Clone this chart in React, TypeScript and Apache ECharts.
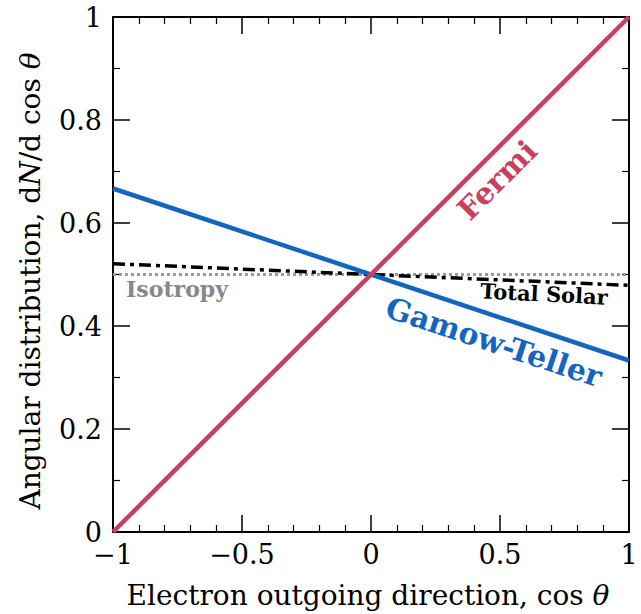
import React, { useEffect, useRef } from "react";
import * as echarts from "echarts";

const xRange = [-1, 1];
const fermi = [[-1, 0], [1, 1]];
const gamowTeller = [[-1, 0.667], [1, 0.333]];
const isotropy = [[-1, 0.5], [1, 0.5]];
const totalSolar = [[-1, 0.521], [1, 0.479]];

const SERIF = "'DejaVu Serif', 'Liberation Serif', serif";
const BOLD = "'DejaVu Serif', serif";
const fmt = (v: number) => (v < 0 ? "\u2212" + Math.abs(v) : String(v));

export default function App() {
  const ref = useRef<HTMLDivElement>(null);
  useEffect(() => {
    if (!ref.current) return;
    document.body.style.margin = "0";
    const chart = echarts.init(ref.current, null, { renderer: "svg" });
    const axisCommon = {
      axisLine: { show: true, onZero: false, lineStyle: { color: "#000", width: 2 } },
      axisTick: { show: true, inside: true, length: 17, lineStyle: { color: "#000", width: 1.5 } },
      minorTick: { show: true, length: 7, lineStyle: { color: "#000", width: 1.2 } },
      splitLine: { show: false },
    };
    chart.setOption({
      animation: false,
      backgroundColor: "#fff",
      grid: { left: 113, right: 12, top: 17, bottom: 82 },
      xAxis: [
        {
          type: "value", min: xRange[0], max: xRange[1], interval: 0.5, position: "bottom",
          ...axisCommon,
          minorTick: { ...axisCommon.minorTick, splitNumber: 5 },
          axisLabel: { fontFamily: SERIF, fontSize: 27, lineHeight: 22, color: "#000", margin: 11, formatter: fmt },
        },
        {
          type: "value", min: xRange[0], max: xRange[1], interval: 0.5, position: "top",
          ...axisCommon,
          minorTick: { ...axisCommon.minorTick, splitNumber: 5 },
          axisLabel: { show: false },
        },
      ],
      yAxis: [
        {
          type: "value", min: 0, max: 1, interval: 0.2, position: "left",
          ...axisCommon,
          minorTick: { ...axisCommon.minorTick, splitNumber: 2 },
          axisLabel: { fontFamily: SERIF, fontSize: 27, lineHeight: 20, color: "#000", margin: 11, formatter: fmt },
        },
        {
          type: "value", min: 0, max: 1, interval: 0.2, position: "right",
          ...axisCommon,
          minorTick: { ...axisCommon.minorTick, splitNumber: 2 },
          axisLabel: { show: false },
        },
      ],
      series: [
        {
          type: "line", name: "Isotropy", data: isotropy, symbol: "none", z: 2,
          lineStyle: { color: "#999", width: 3, type: [3, 3] },
        },
        {
          type: "line", name: "Total Solar", data: totalSolar, symbol: "none", z: 3,
          lineStyle: { color: "#000", width: 3.5, type: [12, 5, 4, 5] },
        },
        {
          type: "line", name: "Gamow-Teller", data: gamowTeller, symbol: "none", z: 4,
          lineStyle: { color: "#1565c0", width: 4.5 },
        },
        {
          type: "line", name: "Fermi", data: fermi, symbol: "none", z: 5,
          lineStyle: { color: "#c9405f", width: 4.5 },
        },
      ],
      graphic: [
        {
          type: "text", x: 497, y: 180, rotation: Math.PI / 4,
          style: { text: "Fermi", fontFamily: BOLD, fontWeight: "bold", fontSize: 30, fill: "#c9405f", textAlign: "center", textVerticalAlign: "middle" },
        },
        {
          type: "text", x: 494, y: 342, rotation: -0.32,
          style: { text: "Gamow-Teller", fontFamily: BOLD, fontWeight: "bold", fontSize: 30, fill: "#1565c0", textAlign: "center", textVerticalAlign: "middle" },
        },
        {
          type: "text", x: 544, y: 294, rotation: -0.05,
          style: { text: "Total Solar", fontFamily: BOLD, fontWeight: "bold", fontSize: 21, fill: "#000", textAlign: "center", textVerticalAlign: "middle" },
        },
        {
          type: "text", x: 177, y: 289,
          style: { text: "Isotropy", fontFamily: BOLD, fontWeight: "bold", fontSize: 22, fill: "#888", textAlign: "center", textVerticalAlign: "middle" },
        },
        {
          type: "text", x: 368, y: 595,
          style: {
            text: "{n|Electron outgoing direction, cos }{i|\u03b8}",
            textAlign: "center", textVerticalAlign: "middle",
            rich: {
              n: { fontFamily: SERIF, fontSize: 28, fill: "#000" },
              i: { fontFamily: SERIF, fontSize: 28, fontStyle: "italic", fill: "#000" },
            },
          },
        },
        {
          type: "text", x: 30, y: 281, rotation: Math.PI / 2,
          style: {
            text: "{n|Angular distribution, d}{i|N}{n|/d cos }{i|\u03b8}",
            textAlign: "center", textVerticalAlign: "middle",
            rich: {
              n: { fontFamily: SERIF, fontSize: 28, fill: "#000" },
              i: { fontFamily: SERIF, fontSize: 28, fontStyle: "italic", fill: "#000" },
            },
          },
        },
      ],
    });
    return () => chart.dispose();
  }, []);
  return <div ref={ref} style={{ width: 641, height: 614 }} />;
}
